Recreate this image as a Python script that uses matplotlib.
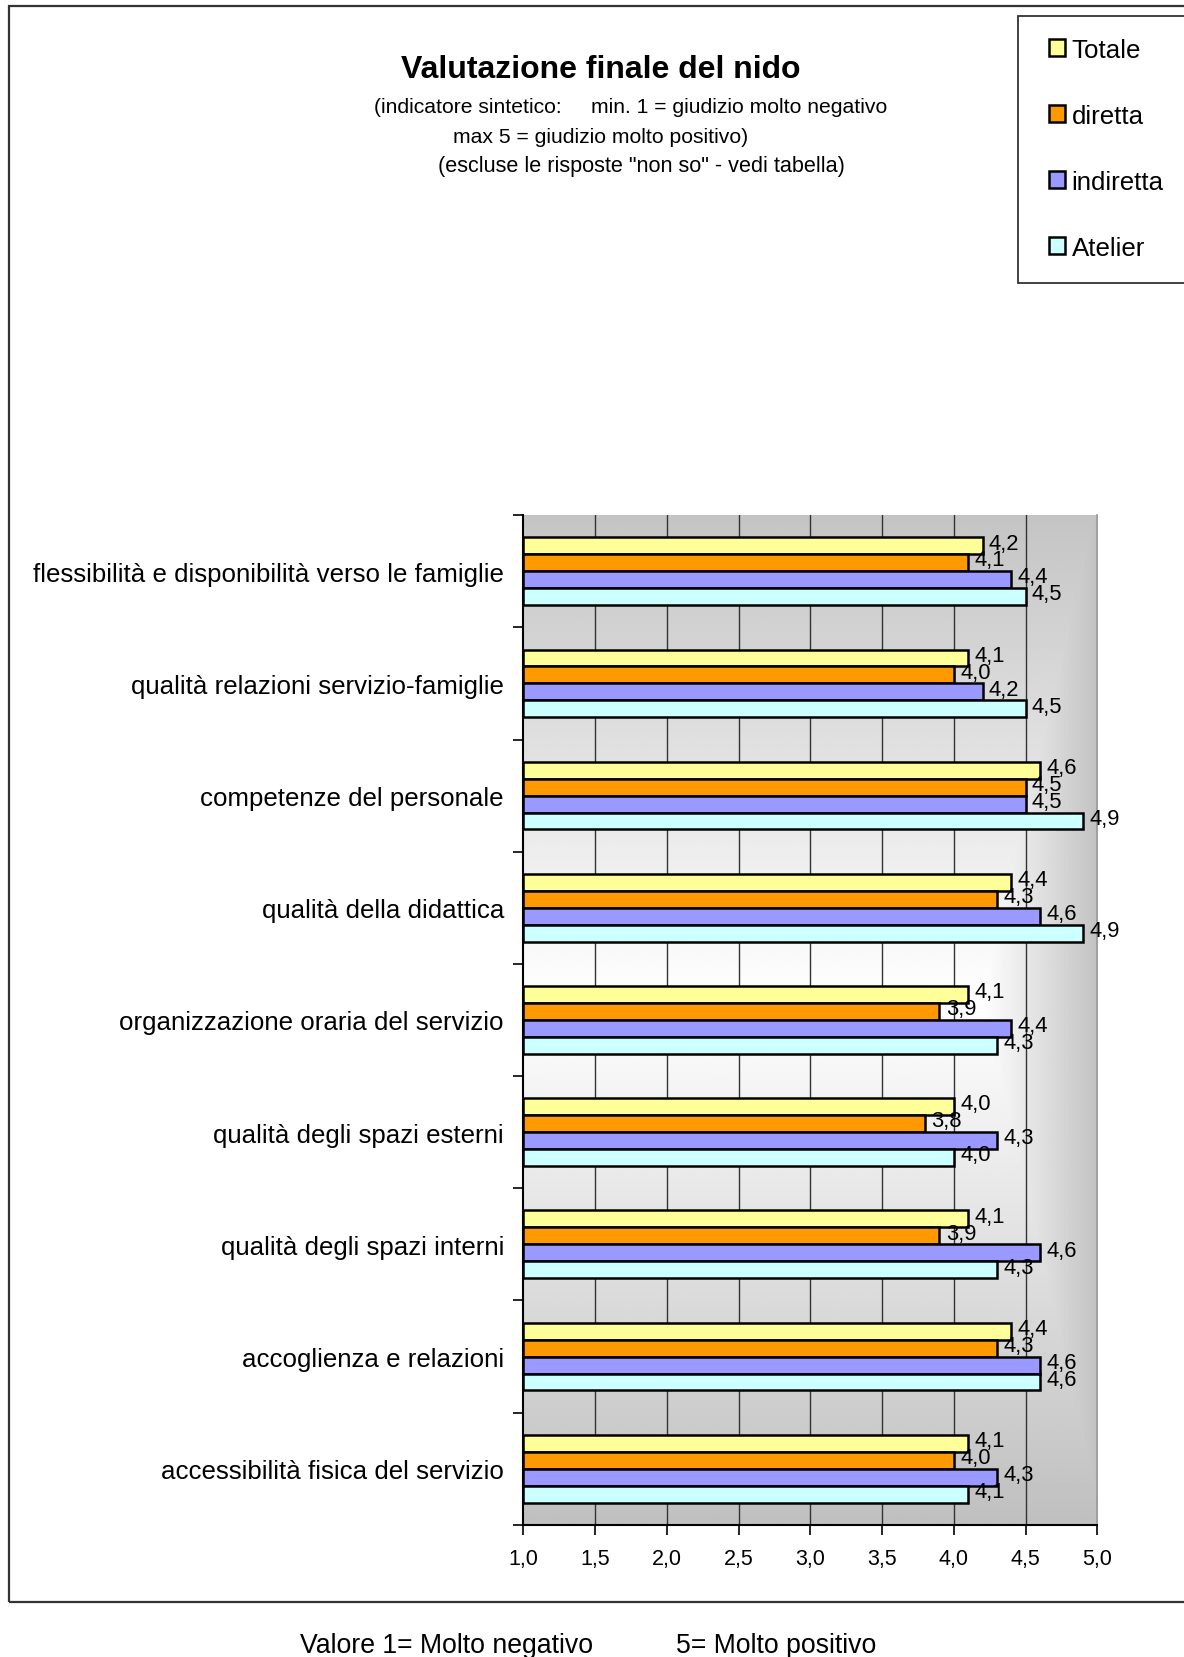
import numpy as np
import matplotlib
matplotlib.use("Agg")
import matplotlib.pyplot as plt
from matplotlib.patches import Rectangle
from matplotlib.ticker import FuncFormatter, FixedLocator

plt.rcParams['font.family'] = ['Liberation Sans', 'DejaVu Sans']

categories = [
    "flessibilità e disponibilità verso le famiglie",
    "qualità relazioni servizio-famiglie",
    "competenze del personale",
    "qualità della didattica",
    "organizzazione oraria del servizio",
    "qualità degli spazi esterni",
    "qualità degli spazi interni",
    "accoglienza e relazioni",
    "accessibilità fisica del servizio",
]
series_names = ["Totale", "diretta", "indiretta", "Atelier"]
totale    = [4.2, 4.1, 4.6, 4.4, 4.1, 4.0, 4.1, 4.4, 4.1]
diretta   = [4.1, 4.0, 4.5, 4.3, 3.9, 3.8, 3.9, 4.3, 4.0]
indiretta = [4.4, 4.2, 4.5, 4.6, 4.4, 4.3, 4.6, 4.6, 4.3]
atelier   = [4.5, 4.5, 4.9, 4.9, 4.3, 4.0, 4.3, 4.6, 4.1]
colors = ["#FFFF99", "#FF9900", "#9999FF", "#CCFFFF"]
xticks = [1.0, 1.5, 2.0, 2.5, 3.0, 3.5, 4.0, 4.5, 5.0]

W, H = 1184, 1658
fig = plt.figure(figsize=(W / 100, H / 100), dpi=100)

# outer chart border
fig.patches.append(Rectangle((8.5 / W, 1 - 1603 / H), 1.2, 1603 / H - 7.4 / H,
                             transform=fig.transFigure, fill=False,
                             edgecolor="#333333", lw=1.6, zorder=0))

ax = fig.add_axes([0.442, 0.0797, 0.4848, 0.609])
n = len(categories)
ax.set_xlim(1.0, 5.0)
ax.set_ylim(n - 0.5, -0.5)

# gradient background
gx = np.linspace(0, 1, 400)
gy = np.linspace(0, 1, 400)
GX, GY = np.meshgrid(gx, gy)
t = np.maximum(np.abs(GY - 0.48) / 0.52, np.clip((GX - 0.80) / 0.20, 0, 1) * 0.95)
shade = 1.0 - 0.25 * np.clip(t, 0, 1)
ax.imshow(shade, cmap="gray", vmin=0, vmax=1, extent=(1.0, 5.0, n - 0.5, -0.5),
          aspect="auto", zorder=0, interpolation="bilinear")

for xv in xticks[1:-1]:
    ax.axvline(xv, color="#333333", lw=1.0, zorder=1)

h = 0.151
all_series = [totale, diretta, indiretta, atelier]
y = np.arange(n)
handles = []
for k, (vals, col, name) in enumerate(zip(all_series, colors, series_names)):
    yy = y + (k - 1.5) * h
    bars = ax.barh(yy, np.array(vals) - 1.0, left=1.0, height=h, color=col,
                   edgecolor="black", lw=1.8, zorder=3, label=name)
    handles.append(bars)
    for yi, v in zip(yy, vals):
        ax.annotate(f"{v:.1f}".replace(".", ","), xy=(v, yi), xytext=(4.5, 2),
                    textcoords="offset points", ha="left", va="center",
                    fontsize=15.8, color="black", zorder=4)

# axes styling
ax.spines["top"].set_visible(False)
ax.spines["right"].set_color("#999999")
ax.spines["right"].set_linewidth(1.2)
ax.spines["left"].set_linewidth(1.5)
ax.spines["bottom"].set_linewidth(1.5)
ax.spines["left"].set_zorder(5)
ax.spines["bottom"].set_zorder(5)

ax.set_xticks(xticks)
ax.xaxis.set_major_formatter(FuncFormatter(lambda v, p: f"{v:.1f}".replace(".", ",")))
ax.tick_params(axis="x", direction="out", length=7, width=1.2, labelsize=15.5, pad=10)

ax.yaxis.set_major_locator(FixedLocator(np.arange(-0.5, n, 1.0)))
ax.yaxis.set_major_formatter(FuncFormatter(lambda v, p: ""))
ax.set_yticks(y, minor=True)
ax.set_yticklabels(categories, minor=True)
ax.tick_params(axis="y", which="major", direction="out", length=7, width=1.2)
ax.tick_params(axis="y", which="minor", length=0, labelsize=18.6, pad=14)

# titles
fig.text(0.507, 1 - 70.5 / H, "Valutazione finale del nido", ha="center", va="center",
         fontsize=23, fontweight="bold")
fig.text(0.533, 1 - 107.5 / H, "(indicatore sintetico:     min. 1 = giudizio molto negativo",
         ha="center", va="center", fontsize=15.2)
fig.text(0.507, 1 - 137.5 / H, "max 5 = giudizio molto positivo)", ha="center", va="center",
         fontsize=15.2)
fig.text(0.542, 1 - 167 / H, "(escluse le risposte \"non so\" - vedi tabella)", ha="center",
         va="center", fontsize=15.6)

fig.text(300 / W, 1 - 1646 / H, "Valore 1= Molto negativo", ha="left", va="center",
         fontsize=19.2)
fig.text(676.5 / W, 1 - 1646 / H, "5= Molto positivo", ha="left", va="center",
         fontsize=19.2)

# legend box + legend
fig.patches.append(Rectangle((1018 / W, 1 - 284.4 / H), 0.2, (284.4 - 16.9) / H,
                             transform=fig.transFigure, facecolor="white",
                             edgecolor="#333333", lw=1.3, zorder=1))
leg = fig.legend(handles=handles, labels=series_names, loc="upper left",
                 bbox_to_anchor=(1049 / W, 1 - 38.5 / H), frameon=False,
                 fontsize=18.6, handlelength=0.62, handleheight=0.62,
                 handletextpad=0.25, labelspacing=1.63, borderpad=0,
                 borderaxespad=0)
leg.set_zorder(2)

fig.savefig("out.png", dpi=100)
